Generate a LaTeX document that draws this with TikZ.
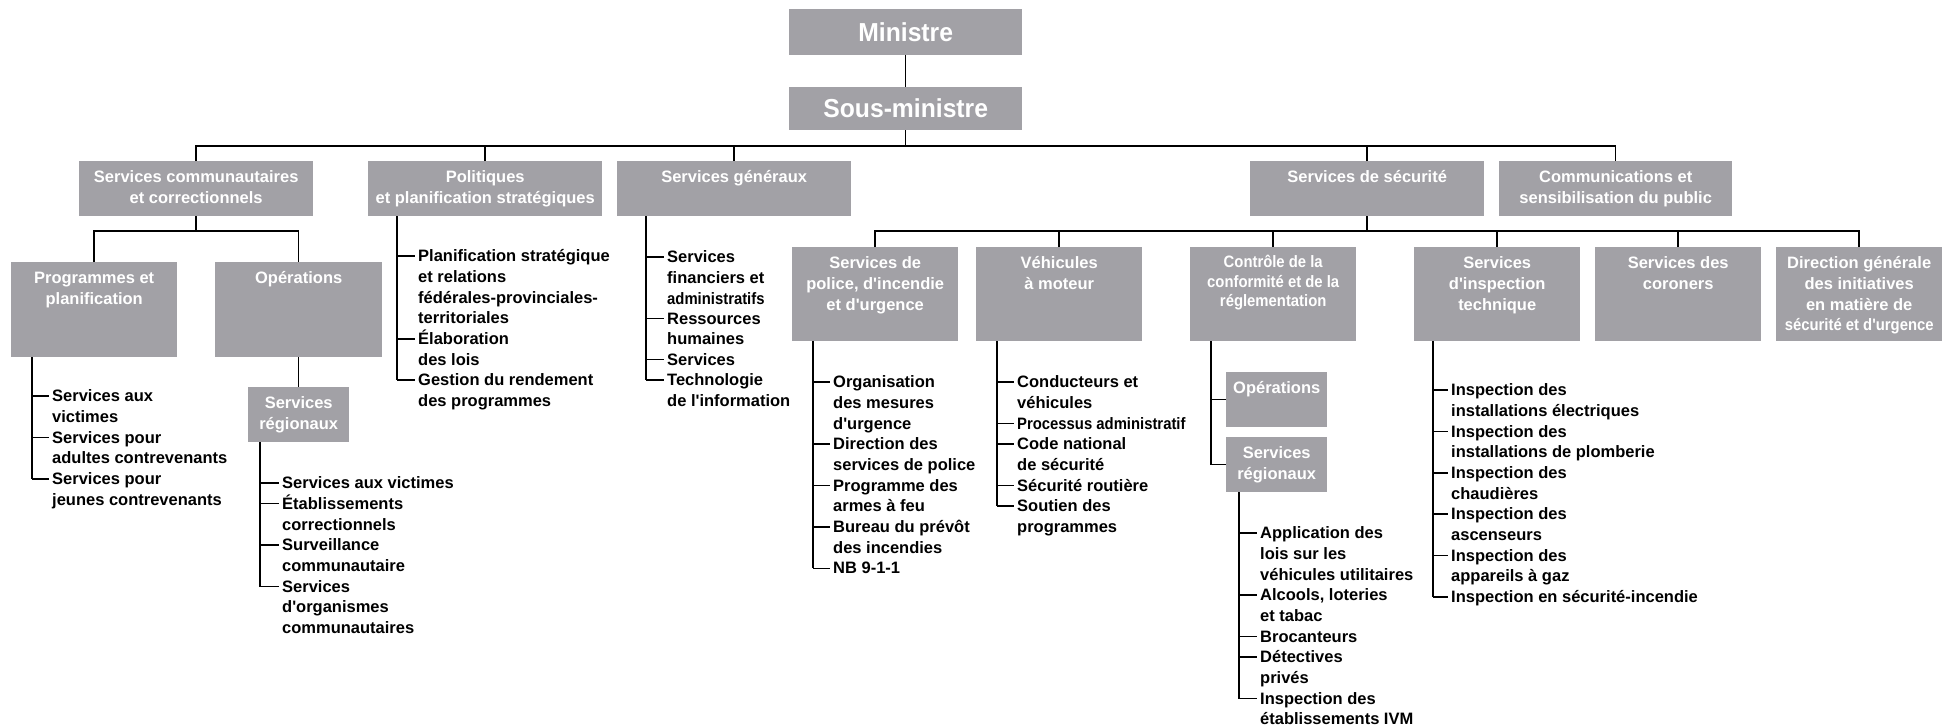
\documentclass[tikz,border=0pt]{standalone}
\usepackage{fontspec}
\usepackage{graphicx}
\setmainfont{Liberation Sans}[Ligatures=TeXOff]
\newfontfamily\narrowfont{Liberation Sans}[FakeStretch=0.9,Ligatures=TeXOff]
\newfontfamily\topfont{Liberation Sans}[FakeStretch=0.95,Ligatures=TeXOff]
\definecolor{boxgrey}{RGB}{162,161,166}
\newcommand\orgbox[5]{\node[box,minimum width={#4-#2},minimum height={#5-#3}] (#1) at (#2,#3) {};}
\newcommand\orgboxtext[2]{\node[boxtext] (#1-t) at ([yshift=-7pt]#1.north) {\strut #2};}
\newcommand\orgitem[5]{%
  \coordinate (#1t) at (#2,#3);
  \node[item] (#1) at (#4-3,#3-9) {\strut #5};
  \draw[link] (#1t) -- (#1t -| #1.west);}
\begin{document}
\begin{tikzpicture}[x=1pt,y=-1pt,
  box/.style={fill=boxgrey,draw=none,inner sep=0pt,anchor=north west},
  boxtext/.style={text=white,font=\fontsize{16.5}{20.7}\selectfont\bfseries,align=center,inner sep=0pt,anchor=north},
  item/.style={text=black,font=\fontsize{16.5}{20.7}\selectfont\bfseries,align=left,inner xsep=3pt,inner ysep=0pt,anchor=north west},
  link/.style={draw=black,line width=1.5pt},
  toptext/.style={text=white,font=\fontsize{26}{30}\selectfont\topfont\bfseries}
]
\useasboundingbox (0,0) rectangle (1944,725);
\coordinate (b1) at (0,146);
\coordinate (b2) at (0,231);

% top
\node[box,toptext,minimum width=233,minimum height=46] (min) at (789,9) {Ministre};
\node[box,toptext,minimum width=233,minimum height=43] (smin) at (789,87) {Sous-ministre};

% level 1
\orgbox{scc}{79}{161}{313}{216}
\orgbox{pol}{368}{161}{602}{216}
\orgbox{sg}{617}{161}{851}{216}
\orgbox{ss}{1250}{161}{1484}{216}
\orgbox{com}{1499}{161}{1732}{216}
\orgboxtext{scc}{Services communautaires\\et correctionnels}
\orgboxtext{pol}{Politiques\\et planification stratégiques}
\orgboxtext{sg}{Services généraux}
\orgboxtext{ss}{Services de sécurité}
\orgboxtext{com}{Communications et\\sensibilisation du public}

% level 2
\orgbox{prog}{11}{262}{177}{357}
\orgbox{ops}{215}{262}{382}{357}
\orgbox{sreg1}{248}{387}{349}{442}
\orgbox{police}{792}{247}{958}{341}
\orgbox{veh}{976}{247}{1142}{341}
\orgbox{ctrl}{1190}{247}{1356}{341}
\orgbox{ops2}{1226}{372}{1327}{427}
\orgbox{sreg2}{1226}{437}{1327}{492}
\orgbox{insp}{1414}{247}{1580}{341}
\orgbox{cor}{1595}{247}{1761}{341}
\orgbox{dir}{1776}{247}{1942}{341}
\orgboxtext{prog}{Programmes et\\planification}
\orgboxtext{ops}{Opérations}
\orgboxtext{sreg1}{Services\\régionaux}
\orgboxtext{police}{Services de\\police, d'incendie\\et d'urgence}
\orgboxtext{veh}{Véhicules\\à moteur}
\node[boxtext,font=\fontsize{16.5}{19.5}\selectfont\narrowfont\bfseries] (ctrl-t) at ([yshift=-7pt]ctrl.north) {\strut Contrôle de la\\conformité et de la\\réglementation};
\orgboxtext{ops2}{Opérations}
\orgboxtext{sreg2}{Services\\régionaux}
\orgboxtext{insp}{Services\\d'inspection\\technique}
\orgboxtext{cor}{Services des\\coroners}
\orgboxtext{dir}{Direction générale\\des initiatives\\en matière de\\{\narrowfont sécurité et d'urgence}}

% main connectors
\draw[link] (min) -- (smin);
\draw[link] (smin.south) -- (smin.south |- b1);
\draw[link] (scc.north) |- (com.north |- b1) -- (com.north);
\foreach \n in {pol,sg,ss} \draw[link] (\n.north) -- (\n.north |- b1);
\draw[link] (scc.south) -- (scc.south |- b2);
\draw[link] (prog.north) |- (ops.north |- b2) -- (ops.north);
\draw[link] (ops) -- (sreg1);
\draw[link] (ss.south) -- (ss.south |- b2);
\draw[link] (police.north) |- (dir.north |- b2) -- (dir.north);
\foreach \n in {veh,ctrl,insp,cor} \draw[link] (\n.north) -- (\n.north |- b2);
\coordinate (ctrlT) at (1211,341);
\draw[link] (ctrl.south -| ctrlT) |- (sreg2.west);
\draw[link] (ops2.west) -- (ops2.west -| ctrlT);

% lists
\orgitem{pr1}{32}{396}{52}{Services aux\\victimes}
\orgitem{pr2}{32}{437.4}{52}{Services pour\\adultes contrevenants}
\orgitem{pr3}{32}{478.8}{52}{Services pour\\jeunes contrevenants}
\draw[link] (prog.south -| pr1t) -- (pr3t);

\orgitem{ra1}{260}{483}{282}{Services aux victimes}
\orgitem{ra2}{260}{503.7}{282}{Établissements\\correctionnels}
\orgitem{ra3}{260}{545.1}{282}{Surveillance\\communautaire}
\orgitem{ra4}{260}{586.5}{282}{Services\\d'organismes\\communautaires}
\draw[link] (sreg1.south -| ra1t) -- (ra4t);

\orgitem{pl1}{397}{256}{418}{Planification stratégique\\et relations\\fédérales-provinciales-\\territoriales}
\orgitem{pl2}{397}{338.8}{418}{Élaboration\\des lois}
\orgitem{pl3}{397}{380.2}{418}{Gestion du rendement\\des programmes}
\draw[link] (pol.south -| pl1t) -- (pl3t);

\orgitem{sg1}{646}{257}{667}{Services\\financiers et\\{\narrowfont administratifs}}
\orgitem{sg2}{646}{318.5}{667}{Ressources\\humaines}
\orgitem{sg3}{646}{359.5}{667}{Services}
\orgitem{sg4}{646}{380}{667}{Technologie\\de l'information}
\draw[link] (sg.south -| sg1t) -- (sg4t);

\orgitem{po1}{813}{382}{833}{Organisation\\des mesures\\d'urgence}
\orgitem{po2}{813}{444.1}{833}{Direction des\\services de police}
\orgitem{po3}{813}{485.5}{833}{Programme des\\armes à feu}
\orgitem{po4}{813}{526.9}{833}{Bureau du prévôt\\des incendies}
\orgitem{po5}{813}{568.3}{833}{NB 9-1-1}
\draw[link] (police.south -| po1t) -- (po5t);

\orgitem{ve1}{997}{382}{1017}{Conducteurs et\\véhicules}
\orgitem{ve2}{997}{423.4}{1017}{{\narrowfont Processus administratif}}
\orgitem{ve3}{997}{444.1}{1017}{Code national\\de sécurité}
\orgitem{ve4}{997}{485.5}{1017}{Sécurité routière}
\orgitem{ve5}{997}{506.2}{1017}{Soutien des\\programmes}
\draw[link] (veh.south -| ve1t) -- (ve5t);

\orgitem{rb1}{1239}{533}{1260}{Application des\\lois sur les\\véhicules utilitaires}
\orgitem{rb2}{1239}{595.1}{1260}{Alcools, loteries\\et tabac}
\orgitem{rb3}{1239}{636.5}{1260}{Brocanteurs}
\orgitem{rb4}{1239}{657.2}{1260}{Détectives\\privés}
\orgitem{rb5}{1239}{698.6}{1260}{Inspection des\\établissements IVM}
\draw[link] (sreg2.south -| rb1t) -- (rb5t);

\orgitem{in1}{1433}{390}{1451}{Inspection des\\installations électriques}
\orgitem{in2}{1433}{431.4}{1451}{Inspection des\\installations de plomberie}
\orgitem{in3}{1433}{472.8}{1451}{Inspection des\\chaudières}
\orgitem{in4}{1433}{514.2}{1451}{Inspection des\\ascenseurs}
\orgitem{in5}{1433}{555.6}{1451}{Inspection des\\appareils à gaz}
\orgitem{in6}{1433}{597}{1451}{Inspection en sécurité-incendie}
\draw[link] (insp.south -| in1t) -- (in6t);
\end{tikzpicture}
\end{document}
